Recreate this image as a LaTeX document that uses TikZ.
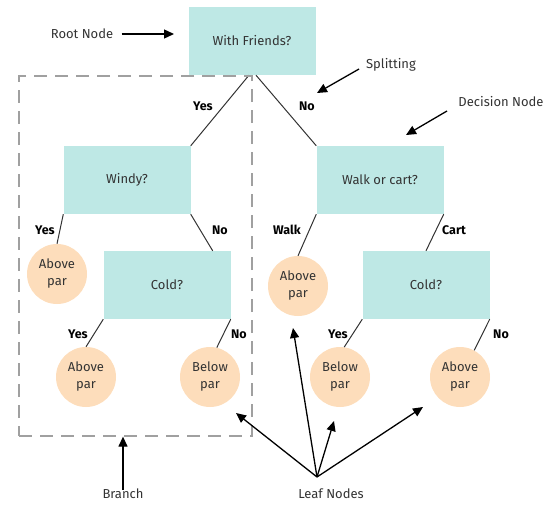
\documentclass[tikz,border=0pt]{standalone}
\usepackage{fontspec}
\setmainfont{Fira Sans}
\usepackage{tikz}
\usetikzlibrary{arrows.meta}
\usepackage{xcolor}
\definecolor{ColA}{RGB}{190,232,229}
\definecolor{ColB}{RGB}{253,221,187}
\definecolor{ColT}{RGB}{51,51,51}
\definecolor{ColD}{RGB}{160,160,160}
\tikzstyle{DecisionNode}=[rectangle,fill=ColA,minimum width=127pt,minimum height=68pt,inner sep=0pt,
text=ColT,font=\fontsize{13}{18}\selectfont]
\tikzstyle{LeafNode}=[circle,fill=ColB,minimum size=60pt,inner sep=0pt,align=center,
text=ColT,font=\fontsize{13}{17}\selectfont]
\tikzstyle{EdgeTree}=[ColT,line width=1pt]
\tikzstyle{EdgeLabel}=[text=black,font=\fontsize{12.5}{14}\selectfont\bfseries]
\tikzstyle{Annot}=[text=ColT,font=\fontsize{13}{15}\selectfont]
\tikzstyle{Pointer}=[black,line width=1.3pt,-{Triangle[length=10pt,width=9pt]}]
\tikzstyle{BranchBox}=[rectangle,draw=ColD,line width=1.3pt,dash pattern=on 13pt off 8pt,
minimum width=233pt,minimum height=360pt]

\begin{document}
\begin{tikzpicture}[x=1pt,y=-1pt]
        \useasboundingbox(0,0)rectangle(554,511);
        % tree
        \node[DecisionNode](root)at(252,41){With Friends?};
        \node[DecisionNode](windy)at(127,180){Windy?};
        \node[DecisionNode](walk)at(380,180){Walk or cart?};
        \node[DecisionNode](coldA)at(167,285){Cold?};
        \node[DecisionNode](coldB)at(426,285){Cold?};
        \node[LeafNode](leafA)at(57,274){Above\\par};
        \node[LeafNode](leafB)at(86,377){Above\\par};
        \node[LeafNode](leafC)at(210,377){Below\\par};
        \node[LeafNode](leafD)at(298,286){Above\\par};
        \node[LeafNode](leafE)at(340,377){Below\\par};
        \node[LeafNode](leafF)at(460,377){Above\\par};
        \draw[EdgeTree]([xshift=-3pt]root.south)--(windy.north east);
        \draw[EdgeTree]([xshift=4pt]root.south)--(walk.north west);
        \draw[EdgeTree](windy.south west)--(leafA.north);
        \draw[EdgeTree](windy.south east)--([xshift=-18pt]coldA.north east);
        \draw[EdgeTree](walk.south west)--(leafD.north);
        \draw[EdgeTree](walk.south east)--(coldB.north);
        \draw[EdgeTree](coldA.south west)--(leafB.north);
        \draw[EdgeTree](coldA.south east)--(leafC.77);
        \draw[EdgeTree](coldB.south west)--(leafE.82);
        \draw[EdgeTree](coldB.south east)--(leafF.62);
        % edge labels
        \node[EdgeLabel](yesA)at(203,106){Yes};
        \node[EdgeLabel](noA)at(307,106){No};
        \node[EdgeLabel](yesB)at(45,230){Yes};
        \node[EdgeLabel](noB)at(220,230){No};
        \node[EdgeLabel](walkl)at(287,230){Walk};
        \node[EdgeLabel](cartl)at(454,230){Cart};
        \node[EdgeLabel](yesC)at(78,334){Yes};
        \node[EdgeLabel](noC)at(239,334){No};
        \node[EdgeLabel](yesD)at(338,334){Yes};
        \node[EdgeLabel](noD)at(501,334){No};
        % annotations
        \node[BranchBox](branch)at(135.5,256){};
        \node[Annot](lblroot)at(82,34){Root Node};
        \node[Annot](lblsplit)at(391,65){Splitting};
        \node[Annot](lbldec)at(501,102){Decision Node};
        \node[Annot](lblbranch)at(123,494){Branch};
        \node[Annot](lblleaf)at(331,494){Leaf Nodes};
        \coordinate(rootptr)at(174,34);
        \coordinate(splitfrom)at(359,69);
        \coordinate(splitptr)at(317,93);
        \coordinate(decfrom)at(447,111);
        \coordinate(decptr)at(406,135);
        \coordinate(leafsrc)at(317,477);
        \coordinate(leafptrA)at(236,413);
        \coordinate(leafptrB)at(293,328);
        \coordinate(leafptrC)at(334,421);
        \coordinate(leafptrD)at(423,407);
        \draw[Pointer](lblroot.east)++(5pt,0)--(rootptr);
        \draw[Pointer](splitfrom)--(splitptr);
        \draw[Pointer](decfrom)--(decptr);
        \draw[Pointer]([yshift=-4pt]lblbranch.north)--(branch.south-|lblbranch);
        \foreach \t in {A,B,C,D}
            \draw[Pointer](leafsrc)--(leafptr\t);
    \end{tikzpicture}
\end{document}
